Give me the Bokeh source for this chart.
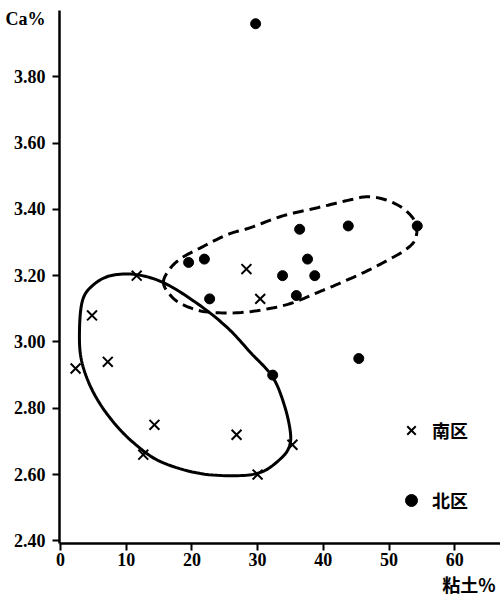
import numpy as np
from bokeh.plotting import figure
from bokeh.models import Range1d, FixedTicker, NumeralTickFormatter, Legend, LegendItem, Title
from bokeh.embed import file_html
from bokeh.resources import INLINE

# ---- data ----
north_clay = [29.7, 36.4, 43.8, 54.3, 37.6, 33.8, 38.7, 35.9, 19.5, 21.9, 22.7, 45.4, 32.3]
north_ca = [3.96, 3.34, 3.35, 3.35, 3.25, 3.20, 3.20, 3.14, 3.24, 3.25, 3.13, 2.95, 2.90]
south_clay = [11.6, 28.3, 30.4, 4.8, 2.3, 7.2, 14.3, 12.6, 26.8, 35.3, 30.0]
south_ca = [3.20, 3.22, 3.13, 3.08, 2.92, 2.94, 2.75, 2.66, 2.72, 2.69, 2.60]

# envelope outlines (hand-drawn curves)
south_env_x = [11.57, 15.98, 21.31, 25.57, 28.92, 32.27, 34.09, 35.01, 34.70, 33.18, 30.75,
               27.40, 21.31, 15.22, 11.11, 7.61, 4.87, 3.20, 2.89, 3.35, 4.87, 7.61]
south_env_y = [3.203, 3.176, 3.109, 3.040, 2.968, 2.895, 2.808, 2.724, 2.678, 2.642, 2.609,
               2.597, 2.603, 2.639, 2.696, 2.769, 2.853, 2.944, 3.034, 3.125, 3.170, 3.200]
north_env_x = [15.68, 16.44, 18.26, 21.31, 25.42, 28.92, 33.94, 39.12, 44.14, 46.73, 49.47,
               52.21, 54.03, 54.03, 52.51, 49.92, 46.73, 43.07, 39.12, 35.01, 30.75, 26.64,
               22.07, 19.03, 17.05]
north_env_y = [3.176, 3.215, 3.251, 3.284, 3.324, 3.345, 3.381, 3.405, 3.429, 3.438, 3.429,
               3.402, 3.360, 3.311, 3.278, 3.248, 3.215, 3.182, 3.149, 3.116, 3.097, 3.088,
               3.091, 3.109, 3.134]

x_ticks = [0, 10, 20, 30, 40, 50, 60]
y_ticks = [2.40, 2.60, 2.80, 3.00, 3.20, 3.40, 3.60, 3.80]
y_title_pos = 3.973          # the "Ca%" caption sits in the tick-label column at the top

y_title = "Ca%"
x_title = "粘土%"
south_name = "南区"
north_name = "北区"


def smooth_closed(xs, ys, n=10):
    """Closed Catmull-Rom curve through the outline points."""
    P = np.column_stack([xs, ys])
    m = len(P)
    out = []
    t = np.linspace(0, 1, n, endpoint=False)
    for i in range(m):
        p0, p1, p2, p3 = P[(i - 1) % m], P[i], P[(i + 1) % m], P[(i + 2) % m]
        for s in t:
            s2, s3 = s * s, s * s * s
            pt = 0.5 * ((2 * p1) + (-p0 + p2) * s + (2 * p0 - 5 * p1 + 4 * p2 - p3) * s2
                        + (-p0 + 3 * p1 - 3 * p2 + p3) * s3)
            out.append(pt)
    out.append(out[0])
    out = np.array(out)
    return out[:, 0], out[:, 1]


p = figure(width=500, height=598, output_backend="svg", toolbar_location=None,
           x_range=Range1d(-0.15, 66.97), y_range=Range1d(2.392, 4.0),
           min_border_left=59, min_border_right=0, min_border_top=10, min_border_bottom=55)
p.grid.visible = False
p.outline_line_color = None
p.background_fill_color = "white"
p.border_fill_color = "white"

serif = "Liberation Serif"
for ax in (p.xaxis[0], p.yaxis[0]):
    ax.axis_line_width = 2.5
    ax.axis_line_color = "black"
    ax.major_tick_line_width = 2
    ax.major_tick_line_color = "black"
    ax.minor_tick_line_width = 2
    ax.minor_tick_line_color = "black"
    ax.major_tick_in = 0
    ax.minor_tick_in = 0
    ax.major_label_text_font = serif
    ax.major_label_text_font_size = "18px"
    ax.major_label_text_font_style = "bold"
    ax.major_label_text_color = "black"

# x axis: normal major ticks
p.xaxis.ticker = FixedTicker(ticks=x_ticks)
p.xaxis.minor_tick_line_color = None
p.xaxis.major_tick_out = 7
p.xaxis.major_label_standoff = 2

# y axis: labels at the majors (incl. the "Ca%" caption), tick marks drawn as minors
p.yaxis.ticker = FixedTicker(ticks=y_ticks + [y_title_pos], minor_ticks=y_ticks)
p.yaxis.formatter = NumeralTickFormatter(format="0.00")
p.yaxis.major_label_overrides = {y_title_pos: y_title}
p.yaxis.major_tick_out = 0
p.yaxis.major_tick_line_color = None
p.yaxis.minor_tick_out = 7
p.yaxis.major_label_standoff = 7

sx, sy = smooth_closed(south_env_x, south_env_y)
nx, ny = smooth_closed(north_env_x, north_env_y)
p.line(sx, sy, line_color="black", line_width=3)
p.line(nx, ny, line_color="black", line_width=3, line_dash="11 6")

r_s = p.scatter(south_clay, south_ca, marker="x", size=14, line_color="black", line_width=2)
r_n = p.scatter(north_clay, north_ca, marker="circle", size=10, fill_color="black", line_color="black")

legend = Legend(items=[LegendItem(label=south_name, renderers=[r_s]),
                       LegendItem(label=north_name, renderers=[r_n])],
                location=(337, 28), orientation="vertical",
                border_line_color=None, background_fill_alpha=0,
                padding=0, margin=0, spacing=40, glyph_width=30, glyph_height=30,
                label_standoff=6, label_text_font="Noto Sans CJK SC",
                label_text_font_size="18px", label_text_font_style="bold",
                label_text_color="black")
p.add_layout(legend, "center")

# x-axis title under the tick labels, right-aligned
p.add_layout(Title(text=x_title, align="right", text_font="Noto Sans CJK SC",
                   text_font_size="18px", text_font_style="bold", text_color="black",
                   standoff=0, offset=5),
             "below")

open("out.html", "w").write(file_html(p, INLINE))
